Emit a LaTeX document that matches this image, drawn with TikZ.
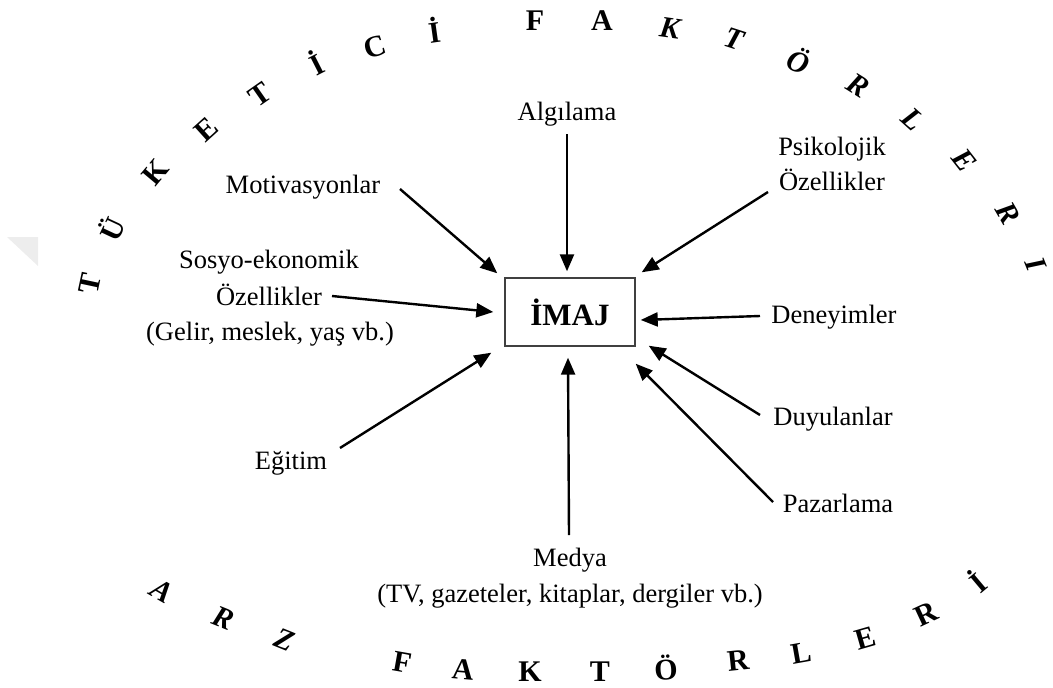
\documentclass[tikz,border=0pt]{standalone}
\usepackage{fontspec}
\setmainfont{Liberation Serif}
\usetikzlibrary{arrows.meta,calc}
\begin{document}
\begin{tikzpicture}[x=1pt,y=-1pt,
  lbl/.style={font=\fontsize{26.5}{36}\selectfont, inner sep=0pt, anchor=base},
  arcup/.style={font=\fontsize{30}{30}\selectfont\bfseries, inner sep=0pt},
  arcit/.style={font=\fontsize{30}{30}\selectfont\bfseries\itshape, inner sep=0pt},
  arr/.style={line width=2.4pt, -{Triangle[length=17pt,width=14pt]}},
  imajbox/.style={draw=black!75, line width=1.4pt, minimum width=130pt,
    minimum height=68pt, inner sep=0pt, font=\fontsize{31}{31}\selectfont\bfseries}
]
\useasboundingbox (0,0) rectangle (1053,688);

% faint grey corner mark on the left
\fill[black!7] (7,237) -- (38,237) -- (38,266) -- cycle;

% upper arc: consumer factors
\foreach \c/\x/\y/\r/\s [count=\i] in {
  T/90/284/78/arcup, Ü/111/228/65/arcup, K/155/172/50/arcup,
  E/206/130/42/arcup, T/260/95/35/arcup, İ/316/62/27/arcup,
  C/375/47/17/arcup, İ/434/30/8/arcup, F/535/21/0/arcup,
  A/602/21/0/arcup, K/670/28/-8/arcit, T/734/39/-18/arcit,
  Ö/799/60/-22/arcit, R/858/85/-32/arcit, L/913/119/-42/arcit,
  E/964/160/-52/arcit, R/1008/213/-60/arcit, I/1036/264/-68/arcit}
  \node[\s, rotate=\r] (tk\i) at (\x,\y) {\c};

% lower arc: supply factors
\foreach \c/\x/\y/\r/\s [count=\i] in {
  A/162/591/-30/arcit, R/223/618/-22/arcit, Z/285/640/-22/arcit,
  F/402/662/-10/arcup, A/463/670/-5/arcup, K/530/672/0/arcup,
  T/600/672/0/arcup, Ö/666/668/3/arcup, R/738/661/6/arcup,
  L/801/653/10/arcup, E/865/638/16/arcup, R/926/614/25/arcup,
  İ/977/581/40/arcup}
  \node[\s, rotate=\r] (az\i) at (\x,\y) {\c};

% central box
\node[imajbox] (imaj) at (570,312) {İMAJ};

% factor labels
\node[lbl] (alg)  at (567,120) {Algılama};
\node[lbl] (psi1) at (832,155) {Psikolojik};
\node[lbl] (psi2) at (832,190) {Özellikler};
\node[lbl] (mot)  at (303,193) {Motivasyonlar};
\node[lbl] (sos1) at (269,268) {Sosyo-ekonomik};
\node[lbl] (sos2) at (269,305) {Özellikler};
\node[lbl] (sos3) at (270,340) {(Gelir, meslek, yaş vb.)};
\node[lbl] (den)  at (834,323) {Deneyimler};
\node[lbl] (duy)  at (833,425) {Duyulanlar};
\node[lbl] (paz)  at (838,512) {Pazarlama};
\node[lbl] (egi)  at (291,469) {Eğitim};
\node[lbl] (med1) at (570,566) {Medya};
\node[lbl] (med2) at (570,602) {(TV, gazeteler, kitaplar, dergiler vb.)};

% arrow tails beside the labels
\coordinate (sAlg) at (567,134);
\coordinate (sPsi) at (768,192);
\coordinate (sMot) at (400,189);
\coordinate (sSos) at (332,296);
\coordinate (sEgi) at (340,448);
\coordinate (sDen) at (760,316);
\coordinate (sDuy) at (760,415);
\coordinate (sPaz) at (773,502);
\coordinate (sMed) at (569,535);

% arrows into the box
\draw[arr] (sAlg) -- ($(imaj.north)+(-3,-6)$);
\draw[arr] (sPsi) -- ($(imaj.north east)+(6,-5)$);
\draw[arr] (sMot) -- ($(imaj.north west)+(-7,-4)$);
\draw[arr] (sSos) -- ($(imaj.west)+(-11,0)$);
\draw[arr] (sEgi) -- ($(imaj.south west)+(-13,6)$);
\draw[arr] (sDen) -- ($(imaj.east)+(5,8)$);
\draw[arr] (sDuy) -- ($(imaj.south east)+(13,-1)$);
\draw[arr] (sPaz) -- ($(imaj.south east)+(0,17)$);
\draw[arr] (sMed) -- ($(imaj.south)+(-2,11)$);
\end{tikzpicture}
\end{document}
